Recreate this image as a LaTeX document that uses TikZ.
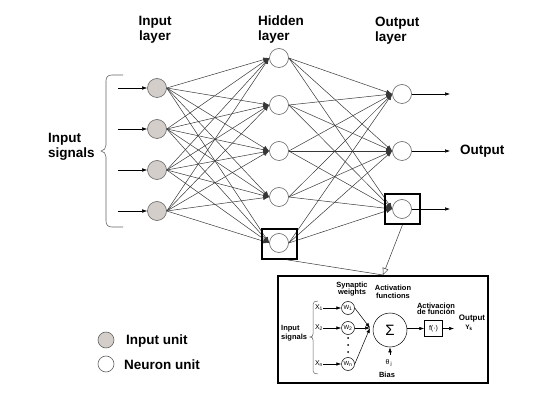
\documentclass[tikz,border=0pt]{standalone}
\usepackage{fontspec}
\setmainfont{Liberation Sans}
\usetikzlibrary{arrows.meta}
\definecolor{unitgray}{RGB}{211,206,201}
\definecolor{linegray}{RGB}{55,55,55}
\definecolor{circgray}{RGB}{100,100,100}
\begin{document}
\begin{tikzpicture}[x=1pt,y=-1pt,
 unit/.style={circle,draw=circgray,line width=0.6pt,minimum size=19pt,inner sep=0pt},
 inunit/.style={unit,fill=unitgray},
 neuron/.style={unit,fill=white},
 conn/.style={draw=linegray,line width=0.5pt,-{Latex[length=6pt,width=4.5pt]}},
 sig/.style={draw=black,line width=0.5pt,-{Latex[length=5pt,width=3.5pt]}},
 lbl/.style={font=\fontsize{13.5}{15}\selectfont\bfseries,align=left,inner sep=0pt},
 small/.style={font=\fontsize{7.5}{7.5}\selectfont\bfseries,inner sep=0pt},
 tiny/.style={font=\fontsize{7}{8}\selectfont,inner sep=0pt},
 hl/.style={draw=black,line width=1.6pt,minimum width=35pt,minimum height=30pt,inner sep=0pt}]
\useasboundingbox (0,0) rectangle (543,419);
% input units
\foreach \k/\y in {1/88,2/129,3/170,4/211}{
  \node[inunit] (i\k) at (157,\y) {};
  \coordinate (in\k) at (118,\y);
}
% hidden units
\foreach \k/\y in {1/58,2/105,3/151,4/197,5/243}{
  \node[neuron] (h\k) at (279,\y) {};
}
% output units
\foreach \k/\y in {1/94,2/151,3/209}{
  \node[neuron] (o\k) at (402,\y) {};
  \coordinate (out\k) at (450,\y);
}
% connections
\foreach \a in {1,...,4}{\foreach \b in {1,...,5}{\draw[conn] (i\a.east) -- (h\b.west);}}
\foreach \a in {1,...,5}{\foreach \b in {1,...,3}{\draw[conn] (h\a.east) -- (o\b.west);}}
\foreach \k in {1,...,4}{\draw[sig] (in\k) -- (i\k.west);}
\foreach \k in {1,...,3}{\draw[sig] (o\k.east) -- (out\k);}
% highlight boxes
\node[hl] (hbox) at (279.5,244) {};
\node[hl] (obox) at (402.5,209) {};
% brace
\draw[circgray,line width=0.6pt] (123,75) -- (112,75) .. controls (108,75) and (106,77) .. (106,81) -- (106,145) .. controls (106,148) and (104,151) .. (101,151) .. controls (104,151) and (106,154) .. (106,157) -- (106,221) .. controls (106,225) and (108,227) .. (112,227) -- (123,227);
% labels
\node[lbl,align=center] (tin) at (155,30) {Input\\layer};
\node[lbl,anchor=west] (thid) at (258,30) {Hidden\\layer};
\node[lbl,anchor=west] (tout) at (375,31) {Output\\layer};
\node[lbl,anchor=west] (tsig) at (48,147) {Input\\signals};
\node[lbl,anchor=west] (toutput) at (460,151) {Output};
% legend
\node[unit,fill=unitgray,minimum size=16pt] (lg1) at (106,340) {};
\node[unit,fill=white,minimum size=16pt] (lg2) at (106,364) {};
\node[lbl,anchor=west] (lt1) at (126,341) {Input unit};
\node[lbl,anchor=west] (lt2) at (124,365) {Neuron unit};
% inset
\node[draw=black,line width=1.6pt,minimum width=210pt,minimum height=107pt,inner sep=0pt] (inset) at (383,329.5) {};
\coordinate (tip) at (383,275);
\draw[linegray,line width=0.5pt] (hbox.-65) -- (tip);
\draw[linegray,line width=0.5pt,-{Triangle[open,length=7pt,width=6pt]}] (obox.south) -- (tip);
\node[small,align=center] (tsyn) at (352,289) {Synaptic\\weights};
\node[small,align=center] (tact) at (393,292) {Activation\\functions};
\node[small,align=center,font=\fontsize{7.5}{6.5}\selectfont\bfseries] (tactf) at (436,309) {Activacion\\de función};
\node[small,align=left,anchor=west,font=\fontsize{7.5}{8.5}\selectfont\bfseries] (tis) at (281,333) {Input\\signals};
\draw[circgray,line width=0.5pt] (318,301) .. controls (315,301) and (313,302) .. (313,304) -- (313,334) .. controls (313,336) and (312,337) .. (310,337) .. controls (312,337) and (313,338) .. (313,340) -- (313,371) .. controls (313,373) and (315,374) .. (318,374);
\foreach \k/\y/\s in {1/308/1,2/328/2,3/364/n}{
  \node[tiny] (x\k) at (319,\y) {X\textsubscript{\s}};
  \node[circle,draw=black,line width=0.5pt,minimum size=13pt,inner sep=0pt,font=\fontsize{6}{6}\selectfont] (w\k) at (348,\y) {W\textsubscript{\s}};
  \draw[sig] (x\k.east) -- (w\k.west);
}
\foreach \y in {338,345,352}{\fill (348,\y) circle (1pt);}
\node[circle,draw=black,line width=0.5pt,minimum size=34pt,inner sep=0pt,font=\fontsize{15}{15}\selectfont] (sigma) at (390,330) {Σ};
\coordinate (sin) at (370,328);
\foreach \k in {1,2,3}{\draw[sig] (w\k.east) -- (sin);}
\coordinate (bias) at (390,355);
\draw[sig] (bias) -- (sigma.south);
\node[tiny] (theta) at (389,363) {θ\,\textsubscript{j}};
\node[small] (tbias) at (387,375) {Bias};
\node[draw=black,line width=0.5pt,minimum width=18pt,minimum height=16pt,inner sep=0pt,font=\fontsize{7}{8}\selectfont] (fbox) at (433.5,328.5) {f(·)};
\draw[sig] (sigma.east |- fbox.west) -- (fbox.west);
\coordinate (fout) at (454,328.5);
\draw[sig] (fbox.east) -- (fout);
\node[small,font=\fontsize{8}{8}\selectfont\bfseries] (tout2) at (472,319) {Output};
\node[tiny,font=\fontsize{6.5}{7}\selectfont\bfseries] (yk) at (469,328) {Y\textsubscript{k}};
\end{tikzpicture}
\end{document}
